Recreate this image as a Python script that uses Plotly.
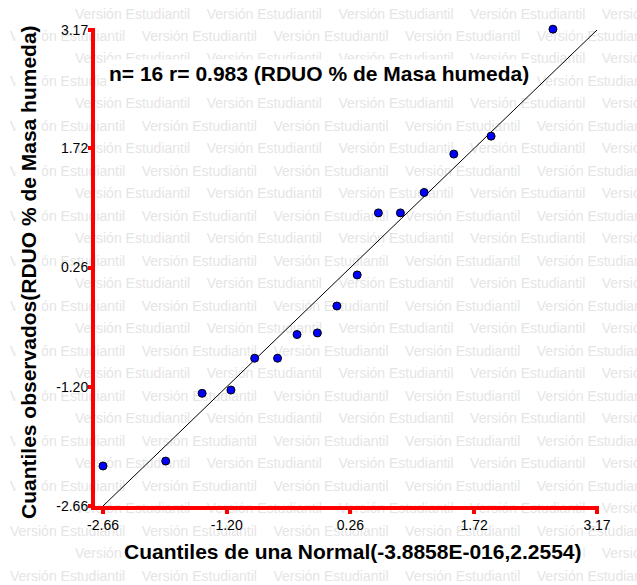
import plotly.graph_objects as go

W, H = 637, 585

# ---- data ----
x_quantiles = [-2.66, -1.92, -1.49, -1.15, -0.87, -0.60, -0.37, -0.13,
               0.10, 0.34, 0.59, 0.85, 1.13, 1.48, 1.92, 2.65]
y_observed = [-2.17, -2.11, -1.28, -1.24, -0.85, -0.85, -0.56, -0.54,
              -0.21, 0.17, 0.93, 0.93, 1.18, 1.65, 1.87, 3.18]
ref_line = [-2.66, 3.17]
tick_vals = [-2.66, -1.20, 0.26, 1.72, 3.17]
tick_text = ["-2.66", "-1.20", "0.26", "1.72", "3.17"]
title_text = "n= 16 r= 0.983 (RDUO % de Masa humeda)"
x_title = "Cuantiles de una Normal(-3.8858E-016,2.2554)"
y_title = "Cuantiles observados(RDUO % de Masa humeda)"
watermark = "Versión Estudiantil"

FONT = "Liberation Sans, Arial, sans-serif"
RED = "#ff0000"

# ---- layout geometry (pixels) ----
px_xmin, px_xmax = 103, 597     # pixel of -2.66 and 3.17 on x
px_ymax, px_ymin = 30, 506      # pixel of 3.17 and -2.66 on y
dom_l, dom_r, dom_t, dom_b = 95, 599, 28, 506
sx = (px_xmax - px_xmin) / (tick_vals[-1] - tick_vals[0])
sy = (px_ymin - px_ymax) / (tick_vals[-1] - tick_vals[0])
x_range = [tick_vals[0] - (px_xmin - dom_l) / sx, tick_vals[-1] + (dom_r - px_xmax) / sx]
y_range = [tick_vals[0] - (dom_b - px_ymin) / sy, tick_vals[-1] + (px_ymax - dom_t) / sy]

fig = go.Figure()

# ---- watermark (background subplot covering the whole page) ----
wm_x, wm_y = [], []
period = 131.7
for k in range(26):
    yy = 15 + 22.48 * k
    start = 75 if k % 2 == 0 else 10
    xx = start - period
    while xx < W:
        wm_x.append(xx)
        wm_y.append(yy)
        xx += period
fig.add_trace(go.Scatter(
    x=wm_x, y=wm_y, mode="text", text=[watermark] * len(wm_x),
    textposition="middle right",
    textfont=dict(family=FONT, size=14, color="#e5e5e5"),
    hoverinfo="skip", showlegend=False, cliponaxis=False,
    xaxis="x", yaxis="y",
))

# ---- reference line ----
fig.add_trace(go.Scatter(
    x=ref_line, y=ref_line, mode="lines",
    line=dict(color="black", width=1),
    showlegend=False, cliponaxis=False, xaxis="x2", yaxis="y2",
))

# ---- points ----
fig.add_trace(go.Scatter(
    x=x_quantiles, y=y_observed, mode="markers",
    marker=dict(size=8, color="#0000ff", line=dict(color="black", width=1)),
    showlegend=False, cliponaxis=False, xaxis="x2", yaxis="y2",
))

fig.update_layout(
    width=W, height=H,
    margin=dict(l=0, r=0, t=0, b=0, pad=0),
    paper_bgcolor="white", plot_bgcolor="rgba(0,0,0,0)",
    font=dict(family=FONT, size=14, color="black"),
    xaxis=dict(domain=[0, 1], range=[0, W], visible=False, fixedrange=True),
    yaxis=dict(domain=[0, 1], range=[H, 0], visible=False, fixedrange=True),
    xaxis2=dict(
        domain=[dom_l / W, dom_r / W], range=x_range, anchor="y2",
        showgrid=False, zeroline=False, showline=True, linecolor=RED, linewidth=4,
        ticks="outside", ticklen=4, tickwidth=4, tickcolor=RED,
        tickvals=tick_vals, ticktext=tick_text, ticklabelstandoff=-1,
        tickfont=dict(family=FONT, size=14, color="black"), automargin=False,
    ),
    yaxis2=dict(
        domain=[1 - dom_b / H, 1 - dom_t / H], range=y_range, anchor="x2",
        showgrid=False, zeroline=False, showline=True, linecolor=RED, linewidth=4,
        ticks="outside", ticklen=3, tickwidth=4, tickcolor=RED,
        tickvals=tick_vals, ticktext=tick_text, ticklabelstandoff=-3,
        tickfont=dict(family=FONT, size=14, color="black"), automargin=False,
    ),
    annotations=[
        dict(text="<b>" + title_text + "</b>", xref="paper", yref="paper",
             x=319 / W, y=1 - 73 / H, xanchor="center", yanchor="middle",
             showarrow=False, bgcolor="white", borderpad=2,
             font=dict(family=FONT, size=21, color="black")),
        dict(text="<b>" + x_title + "</b>", xref="paper", yref="paper",
             x=353 / W, y=1 - 551 / H, xanchor="center", yanchor="middle",
             showarrow=False, bgcolor="white", borderpad=1,
             font=dict(family=FONT, size=21, color="black")),
        dict(text="<b>" + y_title + "</b>", xref="paper", yref="paper",
             x=28 / W, y=1 - 272 / H, xanchor="center", yanchor="middle",
             textangle=-90, showarrow=False, bgcolor="white", borderpad=1,
             font=dict(family=FONT, size=21, color="black")),
    ],
)

fig.write_html("out.html", config={"displayModeBar": False},
               post_script="document.body.style.margin='0';")
